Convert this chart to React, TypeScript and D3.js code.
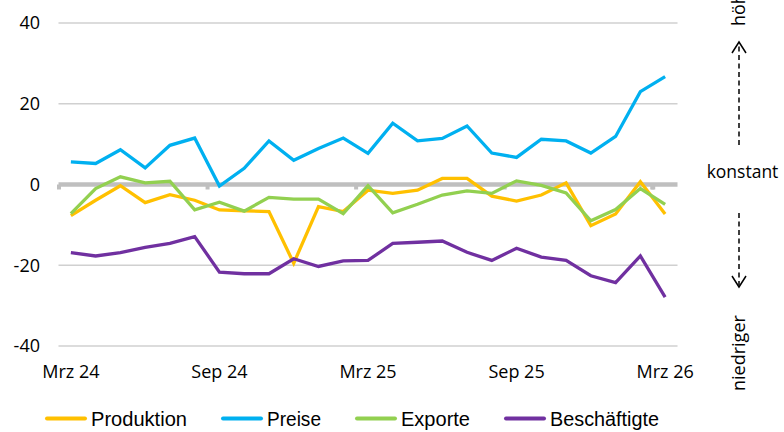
import React from "react";
import * as d3 from "d3";

const categories = [
  "Mrz 24", "Apr 24", "Mai 24", "Jun 24", "Jul 24", "Aug 24", "Sep 24", "Okt 24", "Nov 24", "Dez 24",
  "Jan 25", "Feb 25", "Mrz 25", "Apr 25", "Mai 25", "Jun 25", "Jul 25", "Aug 25", "Sep 25", "Okt 25",
  "Nov 25", "Dez 25", "Jan 26", "Feb 26", "Mrz 26",
];
const tickLabels = ["Mrz 24", "Sep 24", "Mrz 25", "Sep 25", "Mrz 26"];
const yTicks = [-40, -20, 0, 20, 40];

const produktion = [-7.7, -3.9, -0.3, -4.5, -2.5, -3.9, -6.3, -6.5, -6.7, -19.5, -5.5, -6.7, -1.4, -2.2, -1.4, 1.5, 1.5, -2.9, -4.1, -2.6, 0.4, -10.2, -7.3, 0.7, -7.3];
const preise = [5.6, 5.2, 8.6, 4.1, 9.7, 11.5, -0.4, 4.0, 10.8, 6.0, 8.9, 11.5, 7.7, 15.2, 10.8, 11.4, 14.5, 7.8, 6.7, 11.2, 10.8, 7.8, 11.9, 23.0, 26.7];
const exporte = [-7.2, -1.0, 1.9, 0.4, 0.8, -6.3, -4.4, -6.6, -3.2, -3.6, -3.6, -7.2, -0.3, -7.0, -4.9, -2.6, -1.6, -2.2, 0.9, -0.2, -2.1, -9.0, -6.2, -1.0, -4.9];
const beschaeftigte = [-16.9, -17.7, -16.9, -15.6, -14.6, -12.9, -21.7, -22.1, -22.1, -18.4, -20.3, -18.9, -18.8, -14.6, -14.3, -14.0, -16.8, -18.8, -15.8, -18.0, -18.8, -22.6, -24.3, -17.7, -27.9];

const seriesNames = ["Produktion", "Preise", "Exporte", "Beschäftigte"];
const seriesColors = ["#FFC000", "#00B0F0", "#92D050", "#7030A0"];
const seriesData = [produktion, preise, exporte, beschaeftigte];

const FONT = "'Open Sans', sans-serif";

export default function App() {
  const x = d3.scaleBand<string>().domain(categories).range([58.5, 677.5]).paddingInner(0).paddingOuter(0);
  const y = d3.scaleLinear().domain([-40, 40]).range([346, 23]);
  const bw = x.bandwidth();
  const cx = (c: string) => (x(c) as number) + bw / 2;

  const line = d3
    .line<number>()
    .x((_, i) => cx(categories[i]))
    .y((d) => y(d));

  const legendX = [47, 223, 357, 506];
  const legendW = [96, 54, 69, 109];

  return (
    <svg
      width={784}
      height={432}
      style={{ position: "absolute", left: 0, top: 0, background: "#fff" }}
      fontFamily={FONT}
    >
      <rect x={0} y={0} width={784} height={432} fill="#fff" />
      {/* gridlines */}
      {yTicks.filter((t) => t !== 0).map((t) => (
        <line key={t} x1={58.5} x2={677.5} y1={y(t)} y2={y(t)} stroke="#d0d0d0" strokeWidth={1.3} />
      ))}
      {/* zero axis line */}
      <line x1={58.5} x2={677.5} y1={y(0)} y2={y(0)} stroke="#bfbfbf" strokeWidth={4.5} />
      {categories.map((c, i) =>
        i % 6 === 0 ? (
          <rect key={c} x={(x(c) as number) - 1.5} y={y(0)} width={4} height={5} fill="#bfbfbf" />
        ) : null
      )}
      <rect x={(x(categories[24]) as number) - 2.5} y={y(0)} width={4} height={5} fill="#bfbfbf" />
      {/* y labels */}
      {yTicks.map((t) => (
        <text key={t} x={40} y={y(t)} dy="0.35em" textAnchor="end" fontSize={18} fill="#000">
          {t}
        </text>
      ))}
      {/* x labels */}
      {categories.map((c) =>
        tickLabels.includes(c) ? (
          <text key={c} x={cx(c)} y={378} textAnchor="middle" fontSize={18} fill="#000">
            {c}
          </text>
        ) : null
      )}
      {/* series */}
      {seriesData.map((d, k) => (
        <path
          key={seriesNames[k]}
          d={line(d) as string}
          fill="none"
          stroke={seriesColors[k]}
          strokeWidth={3.3}
          strokeLinejoin="miter"
        />
      ))}
      {/* right annotations */}
      <text transform="translate(745,26) rotate(-90)" fontSize={18} fill="#000">
        höher
      </text>
      <line x1={739} x2={739} y1={145} y2={44} stroke="#000" strokeWidth={1.5} strokeDasharray="5,3.5" />
      <polyline points="732,53 739,42 746,53" fill="none" stroke="#000" strokeWidth={1.5} />
      <text x={742.5} y={178} textAnchor="middle" fontSize={17.5} fill="#000">
        konstant
      </text>
      <line x1={739} x2={739} y1={213} y2={285} stroke="#000" strokeWidth={1.5} strokeDasharray="5,3.5" />
      <polyline points="732,276 739,287 746,276" fill="none" stroke="#000" strokeWidth={1.5} />
      <text transform="translate(745,391) rotate(-90)" fontSize={18} fill="#000">
        niedriger
      </text>
      {/* legend */}
      {seriesNames.map((n, k) => (
        <g key={n}>
          <line
            x1={legendX[k]}
            x2={legendX[k] + 38}
            y1={418.5}
            y2={418.5}
            stroke={seriesColors[k]}
            strokeWidth={4}
            strokeLinecap="round"
          />
          <text
            x={legendX[k] + 44}
            y={426}
            fontSize={20}
            fontFamily="'Liberation Sans', sans-serif"
            textLength={legendW[k]}
            lengthAdjust="spacingAndGlyphs"
            fill="#000"
          >
            {n}
          </text>
        </g>
      ))}
    </svg>
  );
}
